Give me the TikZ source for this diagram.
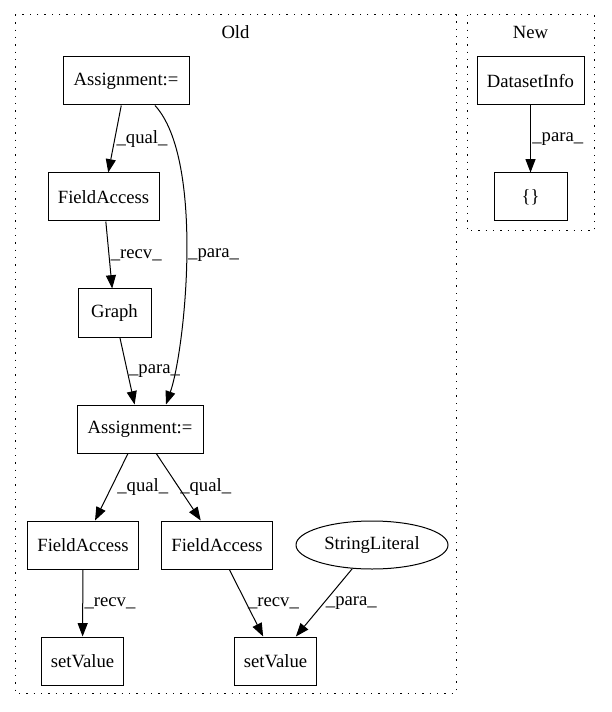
\documentclass[tikz,border=0pt]{standalone}
\usepackage{fontspec}
\setmainfont{Liberation Serif}
\usetikzlibrary{arrows.meta,shapes.geometric,calc}
\begin{document}
\begin{tikzpicture}[x=0.75pt,y=-0.75pt,
    font=\fontsize{14pt}{17pt}\selectfont,
    box/.style={draw, line width=0.75pt, minimum height=36pt, inner sep=0pt},
    oval/.style={draw, ellipse, line width=0.75pt, minimum height=36pt, inner sep=0pt},
    cluster/.style={draw, line width=0.75pt, dash pattern=on 1pt off 4.5pt},
    edge/.style={-{Triangle[length=10pt,width=7.5pt]}, line width=0.75pt},
    lbl/.style={anchor=west, inner sep=1pt}]
  \useasboundingbox (0,0) rectangle (611,712);

  % Draw the clusters
  \draw[cluster] (15,15) rectangle (456,693);
  \draw[cluster] (467,15) rectangle (594,231);
  \node (old) at (235.5,32) {Old};
  \node (new) at (530.5,32) {New};

  % Nodes of the old code
  \node[box, minimum width=94.5pt] (asg1) at (126,81) {Assignment:=};
  \node[box, minimum width=83.25pt] (fa1) at (103.5,197) {FieldAccess};
  \node[box, minimum width=54.75pt] (graph) at (114.5,313) {Graph};
  \node[box, minimum width=94.5pt] (asg2) at (140,429) {Assignment:=};
  \node[box, minimum width=83.25pt] (fa2) at (83,545) {FieldAccess};
  \node[box, minimum width=83.25pt] (fa3) at (217,545) {FieldAccess};
  \node[oval, minimum width=114pt] (str) at (372,545) {StringLiteral};
  \node[box, minimum width=61.5pt] (set1) at (82.5,661) {setValue};
  \node[box, minimum width=61.5pt] (set2) at (275.5,661) {setValue};

  % Nodes of the new code
  \node[box, minimum width=80.25pt] (info) at (530.5,81) {DatasetInfo};
  \node[box, minimum width=54.75pt] (dict) at (530.5,197) {\{\}};

  % Draw the edges
  \draw[edge] (asg1) -- (fa1) node[lbl, midway] {\_qual\_};
  \draw[edge] ($(asg1.south)+(29,0)$) .. controls (205,160) and (185,350) ..
    ($(asg2.north)+(26,0)$) node[lbl, midway] {\_para\_};
  \draw[edge] (fa1) -- (graph) node[lbl, midway] {\_recv\_};
  \draw[edge] (graph) -- (asg2) node[lbl, midway] {\_para\_};
  \draw[edge] (asg2) -- (fa2) node[lbl, midway, xshift=3pt] {\_qual\_};
  \draw[edge] (asg2) -- (fa3) node[lbl, midway] {\_qual\_};
  \draw[edge] (fa2) -- (set1) node[lbl, midway] {\_recv\_};
  \draw[edge] (fa3) -- (set2) node[lbl, midway] {\_recv\_};
  \draw[edge] (str) -- (set2) node[lbl, midway] {\_para\_};
  \draw[edge] (info) -- (dict) node[lbl, midway] {\_para\_};
\end{tikzpicture}
\end{document}
